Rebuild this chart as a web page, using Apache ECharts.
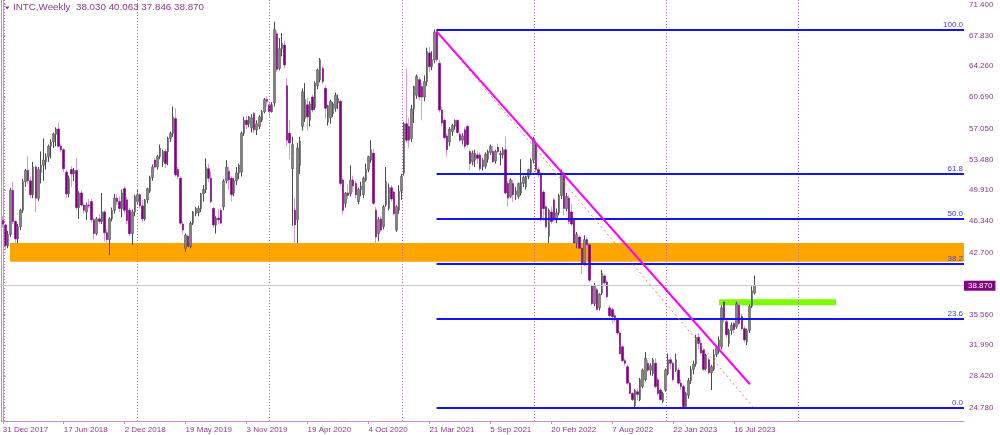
<!DOCTYPE html>
<html><head><meta charset="utf-8">
<script src="https://cdn.jsdelivr.net/npm/echarts@6/dist/echarts.min.js"></script>
<style>html,body{margin:0;padding:0;background:#fff}#c{width:1000px;height:435px}</style>
</head><body><div id="c"></div>
<script>
// ---- DATA: weekly candles [open, high, low, close] ----
const candles2018 = [
[46.4,46.9,45.6,46.0],[45.9,46.0,43.0,43.5],[43.5,45.2,43.2,44.8],[44.8,50.2,44.5,49.9],[49.9,50.9,46.0,46.3],
[46.3,46.5,42.0,44.3],[44.3,46.0,43.8,45.7],[45.7,47.8,45.3,47.6],[47.6,51.2,47.3,50.9],[50.9,52.4,50.3,52.2],
[52.2,53.9,50.6,51.0],[51.0,51.5,49.0,49.4],[49.4,53.2,49.0,52.6],[52.6,52.8,47.4,49.0],[49.0,52.6,48.7,52.3],
[52.0,54.4,50.7,52.8],[52.8,55.9,51.0,53.4],[53.2,54.2,52.3,53.8],[53.8,55.2,53.2,55.0],[55.0,55.8,53.6,55.5],
[55.5,56.6,54.8,56.4],[56.4,57.2,55.0,57.0],[57.0,57.7,54.9,55.0],[55.0,55.3,54.3,54.6],[54.6,54.8,52.0,52.4],
[52.0,52.3,49.0,49.5],[49.5,51.6,49.1,51.3],[52.3,52.7,50.3,51.8],[51.8,52.5,51.0,52.2],[52.2,53.6,47.6,47.9],
[47.9,49.8,46.6,49.6],[49.6,49.9,48.0,48.2],[48.2,48.5,47.2,47.6],[47.4,48.5,46.5,48.2],[48.2,48.9,47.8,48.1],
[48.6,48.9,46.2,46.5],[46.5,46.7,44.2,44.9],[44.9,46.8,44.7,46.6],[46.6,47.2,46.0,46.3],[46.3,49.6,46.0,47.4],
[47.4,47.6,44.0,45.0],[45.0,45.4,43.8,44.2],[44.2,46.8,42.4,46.6],[46.6,47.9,46.3,47.6],[47.6,49.5,47.2,49.0],
[49.0,49.4,48.2,48.6],[48.6,49.2,47.4,47.8],[47.8,50.0,46.8,49.6],[50.1,50.4,47.2,47.6],[48.8,49.2,46.0,46.4],
[47.6,47.9,44.6,44.9],[44.9,47.7,43.6,47.4],[47.4,49.4,46.9,49.2]
];
const candles2019 = [
[48.6,50.0,48.2,49.4],[49.4,49.6,47.8,48.1],[48.1,48.8,46.2,46.6],[46.6,48.9,46.4,48.8],[48.8,50.2,48.4,50.1],
[49.8,51.6,49.6,51.4],[51.4,52.9,51.0,52.6],[53.4,53.6,52.4,52.6],[52.6,54.0,52.3,53.8],[53.8,55.2,53.5,54.8],
[53.2,54.6,52.6,54.4],[54.4,54.7,52.5,53.0],[54.4,56.1,52.8,55.9],[55.9,56.7,55.5,56.5],[56.5,59.6,56.1,58.4],
[58.2,59.4,51.5,51.7],[52.3,52.6,51.2,51.5],[51.3,51.5,45.9,46.1],[46.0,46.3,44.9,45.3],[43.2,44.9,42.8,44.7],
[44.6,44.8,42.9,43.4],[43.4,46.3,43.2,46.1],[46.1,47.5,45.9,47.4],[47.2,48.0,46.9,47.8],[47.3,48.1,46.9,47.8],
[47.8,49.6,47.4,49.5],[49.5,50.5,48.6,50.0],[50.0,53.6,49.6,52.6],[52.4,53.0,50.8,51.3],[51.3,52.1,48.4,48.6],
[47.8,48.0,45.6,45.9],[45.9,46.9,44.9,46.7],[46.7,47.7,46.0,46.5],[47.6,47.9,46.0,46.1],[48.0,51.2,47.6,51.0],
[51.0,53.4,50.7,52.6],[52.1,52.6,50.0,51.1],[51.3,51.6,48.6,49.4],[49.6,51.3,49.2,51.0],[51.0,52.6,50.5,51.9],
[51.9,53.0,51.2,52.8],[52.0,56.7,51.5,56.5],[56.5,58.4,56.2,58.0],[58.0,58.5,57.0,57.5],[57.6,58.5,57.2,58.4],
[57.1,58.7,56.6,58.3],[58.8,59.0,56.5,56.9],[56.9,58.0,56.3,57.6],[57.3,58.6,57.0,58.4],[58.0,59.2,57.8,59.0],
[59.0,60.6,58.8,60.4],[60.4,60.8,59.6,60.2]
];
const candles2020 = [
[59.8,60.1,58.4,59.0],[59.0,60.1,58.9,59.8],[60.0,69.4,59.6,68.5],[68.0,68.4,63.6,63.9],[64.0,67.5,63.8,66.3],
[66.3,68.1,65.4,66.9],[66.7,67.2,64.0,64.4],[62.0,62.9,55.0,55.7],[56.5,58.0,53.5,55.4],[52.4,56.1,45.8,55.2],
[47.6,49.0,43.7,45.9],[46.5,55.4,43.8,54.8],[52.8,56.1,51.8,55.6],[57.3,61.7,56.8,61.3],[58.2,62.3,57.8,60.4],
[59.8,60.6,56.8,58.4],[58.0,60.2,57.3,59.9],[60.7,61.0,58.9,59.2],[59.5,62.5,59.2,62.3],[62.0,64.0,61.6,63.8],
[62.7,65.2,62.4,65.0],[64.0,64.3,62.2,62.5],[61.7,62.0,58.2,59.4],[57.8,59.8,57.4,59.7],[58.3,60.4,57.6,60.2],
[58.8,60.1,58.4,59.9],[59.4,61.2,59.0,60.9],[60.0,61.0,59.3,60.5],[60.2,60.4,50.5,50.7],[51.1,51.3,47.1,47.6],
[48.4,49.7,47.9,49.6],[49.6,50.6,48.9,49.3],[49.5,52.8,49.2,51.1],[51.1,51.6,49.7,50.4],[50.7,51.0,49.0,49.4],
[48.6,50.2,48.3,50.0],[50.0,50.9,49.2,50.4],[49.4,51.5,49.0,51.3],[51.1,53.0,50.9,52.3],[52.3,53.9,52.0,53.8],
[53.4,55.7,53.1,54.6],[54.2,54.7,48.2,48.4],[47.6,48.0,43.8,44.5],[44.9,46.8,44.0,46.5],[46.6,46.9,45.1,45.3],
[45.7,48.2,45.4,48.0],[48.2,52.6,48.0,50.9],[47.8,50.7,47.6,50.2],[50.2,50.5,48.6,48.9],[49.7,49.9,47.0,47.2],
[45.3,48.2,45.1,48.0],[47.6,50.5,47.2,49.8]
];
const candles2021 = [
[49.8,51.8,48.8,51.5],[51.9,57.8,51.6,57.6],[57.6,64.0,55.4,55.7],[57.3,58.3,54.8,55.7],[55.9,59.8,55.5,59.3],
[59.3,62.0,57.7,61.9],[60.9,63.3,60.5,63.1],[62.7,63.0,60.3,60.7],[61.9,62.3,58.0,60.7],[60.7,63.2,60.2,62.5],
[62.5,66.4,62.0,66.0],[65.8,66.5,63.6,64.2],[64.2,66.0,63.8,65.0],[65.0,68.5,64.6,68.2],[68.2,68.5,64.8,65.0],
[64.6,65.0,58.9,59.2],[59.2,59.6,57.3,57.7],[58.0,58.2,55.8,56.0],[56.2,56.5,53.8,54.6],[55.5,57.2,55.0,57.0],
[56.7,57.6,56.2,57.4],[57.3,58.1,56.9,58.0],[58.0,58.1,56.4,56.6],[56.4,56.6,55.5,55.7],[55.7,56.5,55.2,56.2],
[56.9,57.2,54.7,55.0],[57.3,57.5,54.9,55.2],[54.4,54.6,52.3,53.0],[53.2,54.5,52.8,54.2],[53.4,54.6,52.6,54.2],
[54.0,54.4,53.0,53.6],[54.0,54.3,52.1,52.4],[52.6,53.6,52.2,53.4],[52.7,54.3,52.4,54.1],[53.5,54.6,53.1,54.4],
[54.3,55.2,54.0,55.0],[54.4,55.0,53.1,53.2],[53.3,54.6,53.0,54.4],[54.9,55.3,54.2,54.4],[54.0,54.5,52.8,54.2],
[54.0,54.9,53.6,54.6],[54.6,56.1,49.4,49.6],[50.7,51.0,48.0,49.0],[49.2,51.3,49.0,51.1],[50.7,51.1,48.6,49.4],
[49.4,50.3,48.8,49.8],[49.2,50.8,48.9,50.7],[49.6,53.5,49.3,50.8],[50.7,51.6,50.3,51.4],[50.3,51.6,50.0,51.5],
[51.5,52.4,51.2,52.3],[52.0,53.6,51.8,53.4]
];
const candles2022 = [
[53.4,56.1,53.0,55.9],[55.3,55.8,52.0,52.3],[52.3,52.6,51.4,51.7],[51.7,52.0,46.3,46.5],[49.7,49.9,46.4,47.8],
[48.0,48.2,45.5,45.7],[44.6,47.8,43.8,47.6],[47.4,48.0,46.0,46.3],[48.8,49.0,46.3,46.5],[46.5,47.8,46.1,47.3],
[47.3,49.5,47.0,49.3],[49.3,52.3,48.9,52.0],[51.9,52.1,47.0,47.8],[47.8,49.6,47.5,49.2],[49.0,49.3,46.0,46.3],
[47.4,48.3,45.8,46.0],[46.5,46.7,43.6,43.8],[43.8,45.1,43.2,44.8],[44.5,44.7,43.0,43.2],[43.2,43.6,40.3,41.5],
[41.5,44.7,41.2,44.2],[44.2,44.5,43.2,43.6],[43.6,43.8,39.3,39.5],[38.8,39.0,36.6,36.8],[36.8,39.2,36.5,38.8],
[38.4,38.6,36.0,36.1],[36.3,38.0,36.0,37.9],[38.0,40.7,37.8,40.3],[40.0,40.2,38.8,39.2],[39.3,39.5,37.4,37.6],
[36.3,36.6,35.2,35.4],[36.1,36.3,34.5,35.3],[35.4,35.7,34.7,35.2],[34.9,35.1,33.2,33.4],[33.4,33.6,30.9,31.0],
[31.8,32.0,30.0,30.2],[30.2,30.5,29.6,29.9],[29.5,29.7,27.4,27.6],[27.6,27.8,26.3,26.4],[26.4,26.6,25.5,25.7],
[25.0,26.9,24.7,26.8],[26.6,27.0,25.6,26.3],[25.7,28.2,25.5,28.0],[27.2,29.3,27.0,29.1],[28.0,31.2,27.8,30.5],
[29.9,30.3,28.9,29.1],[29.1,29.9,28.5,29.6],[28.7,30.5,28.4,30.3],[29.9,30.5,27.0,27.2],[28.0,28.3,26.2,26.4],
[26.8,27.0,25.6,25.7],[25.5,26.6,25.3,26.4]
];
const candles2023 = [
[26.8,29.3,26.6,29.1],[28.7,31.0,28.5,30.3],[30.3,30.6,29.2,29.9],[29.9,30.1,27.8,28.0],[29.1,31.0,28.9,30.3],
[29.1,29.4,27.4,27.6],[27.6,28.0,26.8,27.2],[27.2,27.4,24.7,24.9],[24.9,26.6,24.8,26.4],[26.2,28.2,25.8,27.9],
[27.9,29.6,27.5,29.2],[29.2,30.2,28.6,29.8],[29.8,33.2,29.5,32.9],[32.9,33.4,31.5,32.2],[32.2,32.6,30.9,31.1],
[31.4,31.6,29.0,29.2],[29.3,31.0,29.1,30.8],[30.3,30.5,28.6,28.8],[28.8,29.7,26.8,29.5],[29.2,31.5,29.0,30.9],
[30.9,31.9,30.6,31.7],[31.3,33.0,31.0,32.6],[31.8,36.6,31.5,36.3],[37.0,37.2,34.6,34.9],[34.7,34.9,32.9,33.2],
[32.2,33.9,31.8,33.7],[33.7,34.6,33.2,34.3],[34.5,34.7,33.4,33.8],[34.1,37.0,33.9,36.8],[36.6,37.0,34.3,34.5],
[35.3,35.6,33.7,33.9],[33.9,34.2,32.3,32.6],[32.4,33.9,32.0,33.7],[33.7,36.7,33.4,36.5],[36.5,38.8,36.3,38.3],
[38.03,40.063,37.846,38.87]
];

const xTickLabels = ['31 Dec 2017','17 Jun 2018','2 Dec 2018','19 May 2019','3 Nov 2019','19 Apr 2020',
  '4 Oct 2020','21 Mar 2021','5 Sep 2021','20 Feb 2022','7 Aug 2022','22 Jan 2023','16 Jul 2023'];
const xTickStep = 24;          // weeks between time labels
const totalSlots = 379;        // chart width in weekly slots (incl. right shift)
const yTickValues = [71.4,67.83,64.26,60.69,57.05,53.48,49.91,46.34,42.7,35.56,31.99,28.42,24.78];
const yMin = 23.22, yMax = 71.92;

const fibLevels = [100.0, 61.8, 50.0, 38.2, 23.6, 0.0];
const fibHigh = 68.5, fibLow = 24.7, fibStartSlot = 170.8;
const orangeZone = {from: 2.85, top: 43.8, bottom: 41.65};
const greenZone = {from: 282.0, to: 328.1, top: 37.3, bottom: 36.6};
const trendLine = [[170.8, 68.3], [294.2, 27.47]];
const dottedTrend = [[170.8, 68.3], [295.3, 24.88]];
const periodSeparators = [0.6, 52.8, 105.1, 157.2, 209.4, 261.4, 313.4];
const lastPrice = 38.87;
const titleText = 'INTC,Weekly  38.030 40.063 37.846 38.870';

// ---- build ----
const allCandles = [].concat(candles2018, candles2019, candles2020, candles2021, candles2022, candles2023);
const categories = Array.from({length: totalSlots}, (_, i) =>
  new Date(Date.UTC(2017, 11, 31) + i * 7 * 86400000).toISOString().slice(0, 10));
const wickData = allCandles.map(([o, h, l, c]) => [o, c, l, h]);
const bodyData = allCandles.map(([o, h, l, c]) => [o, c, Math.min(o, c), Math.max(o, c)]);
const rightEnd = totalSlots - 0.5;

const FONT = 'Liberation Sans, Arial, sans-serif';
const frameColor = '#c98fc9';
const textColor = '#8e3a8e';
const fibColor = '#1414f0';

const chart = echarts.init(document.getElementById('c'), null, {renderer: 'canvas'});
const tickShown = (i) => i % xTickStep === 0 && i / xTickStep < xTickLabels.length;

chart.setOption({
  animation: false,
  backgroundColor: '#ffffff',
  textStyle: {fontFamily: FONT},
  title: {text: titleText, left: 13, top: 2, padding: 0,
    textStyle: {fontSize: 9.8, fontWeight: 'normal', color: textColor, fontFamily: FONT}},
  graphic: [{type: 'polygon', shape: {points: [[5, 6.5], [9.5, 6.5], [7.25, 9.5]]}, style: {fill: textColor}}],
  grid: {left: 1.5, right: 36, top: 0, bottom: 14, containLabel: false, outerBoundsMode: 'none'},
  xAxis: [{
    type: 'category', data: categories, boundaryGap: true,
    axisLine: {show: true, lineStyle: {color: frameColor, width: 1}},
    axisTick: {show: true, interval: tickShown, alignWithLabel: true, length: 3, lineStyle: {color: frameColor}},
    axisLabel: {interval: tickShown, formatter: (v, i) => xTickLabels[i / xTickStep], align: 'left',
      color: textColor, fontSize: 8, margin: 5, fontFamily: FONT},
    splitLine: {show: false}
  }, {
    type: 'value', min: -0.5, max: rightEnd, show: false
  }],
  yAxis: [{
    type: 'value', position: 'right', min: yMin, max: yMax,
    axisLine: {show: true, lineStyle: {color: frameColor, width: 1}},
    axisTick: {show: true, customValues: yTickValues, length: 3, lineStyle: {color: frameColor}},
    axisLabel: {customValues: yTickValues, formatter: v => v.toFixed(3), color: textColor, fontSize: 8,
      margin: 5, fontFamily: FONT},
    splitLine: {show: false}
  }, {
    type: 'value', position: 'left', min: yMin, max: yMax,
    axisLine: {show: true, lineStyle: {color: frameColor, width: 1}},
    axisTick: {show: false}, axisLabel: {show: false}, splitLine: {show: false}
  }],
  series: [
    { // background zones, separators, last price line
      type: 'line', xAxisIndex: 1, yAxisIndex: 0, data: [], z: 1, silent: true,
      markArea: {silent: true, data: [
        [{coord: [orangeZone.from, orangeZone.top], itemStyle: {color: '#ffa500', opacity: 1}},
         {coord: [rightEnd, orangeZone.bottom]}],
        [{coord: [greenZone.from, greenZone.top], itemStyle: {color: '#7cfc00', opacity: 1}},
         {coord: [greenZone.to, greenZone.bottom]}]
      ]},
      markLine: {silent: true, symbol: ['none', 'none'], animation: false,
        data: periodSeparators.map(x => ({xAxis: x,
          lineStyle: {color: '#b96cb9', width: 1, type: [1, 2]}, label: {show: false}})).concat([{
          yAxis: lastPrice, lineStyle: {color: '#c8c8c8', width: 1, type: 'solid'},
          label: {show: true, position: 'end', distance: 0, formatter: lastPrice.toFixed(3),
            color: '#ffffff', backgroundColor: '#800080', fontSize: 8, padding: [1, 3, 0, 4],
            lineHeight: 9, fontFamily: FONT}
        }])}
    },
    { // wicks
      type: 'candlestick', name: 'wick', data: wickData, barWidth: 1, z: 2,
      itemStyle: {color: '#4a4a4a', color0: '#d59cd5', borderColor: '#4a4a4a', borderColor0: '#d59cd5', borderWidth: 1}
    },
    { // bodies
      type: 'candlestick', name: 'body', data: bodyData, barWidth: 2, z: 3,
      itemStyle: {color: '#858585', color0: '#800080', borderColor: '#555555', borderColor0: '#800080', borderWidth: 0.6}
    },
    { // drawings: fibonacci, trend lines
      type: 'line', xAxisIndex: 1, yAxisIndex: 0, data: [], z: 4, silent: true,
      markLine: {silent: true, symbol: ['none', 'none'], animation: false,
        data: fibLevels.map(p => {
          const v = fibLow + (fibHigh - fibLow) * p / 100;
          return [{coord: [fibStartSlot, v], lineStyle: {color: fibColor, width: 2, type: 'solid'},
                   label: {show: true, position: 'insideEndTop', formatter: p.toFixed(1), color: '#3a3aff',
                     fontSize: 8, distance: 1, fontFamily: FONT}},
                  {coord: [rightEnd, v]}];
        }).concat([
          [{coord: dottedTrend[0], lineStyle: {color: '#ff7a5c', width: 1, type: [2, 3]}, label: {show: false}},
           {coord: dottedTrend[1]}],
          [{coord: trendLine[0], lineStyle: {color: '#ff00ff', width: 2, type: 'solid'}, label: {show: false}},
           {coord: trendLine[1]}]
        ])}
    }
  ]
});
</script></body></html>
